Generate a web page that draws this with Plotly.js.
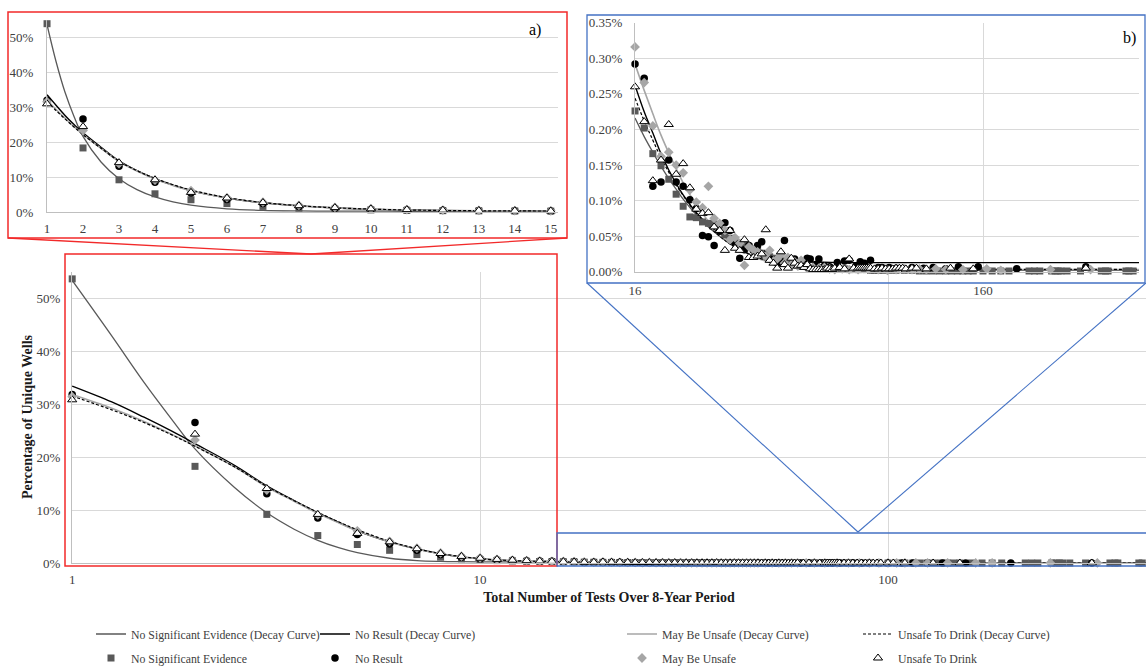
<!DOCTYPE html>
<html>
<head>
<meta charset="utf-8">
<script src="https://cdn.plot.ly/plotly-3.0.1.min.js"></script>
<style>
  html, body { margin: 0; padding: 0; background: #ffffff; overflow: hidden; }
  #chart { width: 1146px; height: 666px; }
</style>
</head>
<body>
<div id="chart"></div>
<script>
// ---------------- DATA (percent of unique wells) ----------------
// Tests 1..15 (inset a and left part of main chart)
const xLow   = [1,2,3,4,5,6,7,8,9,10,11,12,13,14,15];
const nseLow = [53.8,18.3,9.2,5.2,3.5,2.4,1.6,1.1,0.8,0.6,0.45,0.38,0.32,0.28,0.25];
const nrLow  = [31.9,26.6,13.1,8.5,5.4,3.6,2.4,1.6,1.1,0.82,0.62,0.5,0.42,0.36,0.31];
const mbuLow = [31.5,23.3,13.8,9.1,6.1,4.1,2.8,1.9,1.3,0.95,0.7,0.55,0.46,0.38,0.33];
const utdLow = [30.9,24.4,14.1,9.2,5.6,4.0,2.7,1.8,1.25,0.9,0.68,0.53,0.44,0.37,0.31];

// Tests >= 16 (inset b and right part of main chart)
const nseHighX = [16,17,18,19,20,21,22,23,24,25,26,27,28,29,30,31,32,33,34,35,36,37,38,39,40,41,42,43,44,45,46,47,48,49,50,
  52,54,56,58,60,62,64,66,68,70,72,74,76,78,80,
  83,86,90,95,100,105,110,115,120,125,130,135,140,145,150,
  160,170,180,190,
  217,225,233,252,258,263,268,279,305,350,360,366,412,420,432];
const nseHigh = [0.226,0.202,0.166,0.149,0.130,0.109,0.092,0.077,0.076,0.070,
  0.068,0.067,0.060,0.052,0.047,0.044,0.040,0.037,0.035,0.032,
  0.029,0.026,0.024,0.021,0.019,0.017,0.016,0.014,0.013,0.011,
  0.010,0.009,0.008,0.008,0.007,
  0.006,0.006,0.005,0.005,0.004,0.004,0.004,0.003,0.003,0.003,0.003,0.003,0.002,0.002,0.002,
  0.002,0.002,0.002,0.002,0.002,0.001,0.001,0.001,0.001,0.001,0.001,0.001,0.001,0.001,0.001,
  0.001,0.001,0.001,0.001,
  0.001,0.001,0.001,0.001,0.001,0.001,0.001,0.001,0.001,0.001,0.001,0.001,0.001,0.001,0.001];

const nrHighX = [16,17,18,19,20,21,22,23,24,25,26,27,28,29,30,31,32,33,34,35,36,37,38,39,40,41,42,43,44,45,46,
  48,50,51,53,54,56,58,61,64,66,69,71,73,76,80,82,86,90,95,100,
  108,115,125,136,155,200,316];
const nrHigh = [0.292,0.272,0.120,0.126,0.157,0.126,0.120,0.101,0.089,0.051,
  0.049,0.037,0.057,0.069,0.058,0.040,0.019,0.031,0.037,0.030,
  0.037,0.042,0.025,0.018,0.016,0.012,0.014,0.044,0.010,0.009,
  0.018,
  0.012,0.019,0.018,0.010,0.018,0.008,0.007,0.013,0.015,0.016,
  0.008,0.014,0.012,0.016,0.006,0.006,0.006,0.005,0.004,0.006,
  0.005,0.006,0.004,0.007,0.007,0.004,0.007];

const mbuHighX = [16,17,18,19,20,21,22,23,24,25,26,27,28,29,30,31,32,33,34,35,36,37,38,39,40,41,42,43,44,45,46,47,48,
  50,52,54,56,58,60,63,66,70,75,
  80,85,90,95,100,105,110,117,125,140,
  164,180,250,326];
const mbuHigh = [0.316,0.266,0.205,0.162,0.168,0.150,0.139,0.115,0.098,0.090,
  0.120,0.075,0.068,0.058,0.045,0.048,0.040,0.009,0.035,0.031,
  0.028,0.025,0.022,0.030,0.015,0.018,0.024,0.012,0.020,0.010,
  0.014,0.008,0.016,
  0.007,0.006,0.005,0.006,0.004,0.003,0.004,0.003,0.003,0.004,
  0.003,0.002,0.003,0.004,0.003,0.004,0.003,0.004,0.003,0.003,
  0.004,0.002,0.003,0.003];

const utdHighX = [16,17,18,19,20,21,22,23,24,25,26,27,28,29,30,31,32,33,34,35,36,37,38,39,40,41,42,43,44,45,
  46,47,48,49,50,51,52,53,54,55,56,57,58,59,60,
  62,64,66,68,70,71,72,73,74,75,76,78,80,82,84,86,88,90,92,94,96,100,103,110,129,150,316];
const utdHigh = [0.260,0.211,0.128,0.157,0.207,0.137,0.152,0.118,0.088,0.082,
  0.083,0.063,0.058,0.030,0.058,0.033,0.030,0.045,0.020,0.020,
  0.022,0.025,0.059,0.016,0.012,0.005,0.028,0.010,0.005,0.019,
  0.012,0.008,0.009,0.006,0.010,0.004,0.003,0.003,0.003,0.003,
  0.003,0.005,0.004,0.003,0.005,
  0.006,0.004,0.018,0.005,0.005,0.005,0.005,0.005,0.005,0.005,
  0.005,0.004,0.004,0.005,0.004,0.004,0.004,0.005,0.005,0.005,
  0.004,0.005,0.005,0.004,0.005,0.004,0.005];

// Decay curves (tests 1..15)
const fitLowX   = [1,1.25,1.5,1.75,2,2.5,3,3.5,4,4.5,5,6,7,8,9,10,11,12,13,14,15];
const nseFitLow = [53.5,43.0,34.2,27.3,21.6,14.3,9.5,6.4,4.3,2.9,1.95,0.9,0.45,0.3,0.25,0.23,0.22,0.22,0.22,0.22,0.22];
const nrFitLow  = [33.5,30.5,27.6,25.0,22.6,18.5,14.6,11.8,9.5,7.7,6.1,4.0,2.65,1.75,1.15,0.8,0.56,0.42,0.35,0.3,0.27];
const mbuFitLow = [31.9,29.3,26.8,24.4,22.2,18.2,14.4,11.7,9.4,7.6,6.1,4.0,2.65,1.75,1.15,0.8,0.56,0.42,0.35,0.3,0.28];
const utdFitLow = [31.6,29.0,26.6,24.3,22.1,18.2,14.5,11.8,9.6,7.8,6.3,4.1,2.7,1.8,1.2,0.83,0.58,0.44,0.36,0.31,0.28];

// Decay curves (tests >= 16)
const fitHighX   = [16,17,18,19,20,21,22,24,26,28,30,33,36,40,45,50,60,80,120,200,450];
const nseFitHigh = [0.216,0.190,0.168,0.148,0.131,0.116,0.102,0.080,0.063,0.050,0.039,0.028,0.020,0.013,0.008,0.005,0.003,0.002,0.002,0.002,0.002];
const nrFitHigh  = [0.262,0.225,0.195,0.166,0.143,0.124,0.108,0.083,0.066,0.054,0.044,0.034,0.026,0.020,0.016,0.014,0.013,0.0127,0.0127,0.0127,0.0127];
const mbuFitHigh = [0.292,0.255,0.222,0.192,0.167,0.145,0.125,0.094,0.071,0.054,0.041,0.028,0.019,0.012,0.007,0.005,0.0035,0.003,0.003,0.003,0.003];
const utdFitHigh = [0.244,0.212,0.185,0.160,0.140,0.122,0.107,0.082,0.064,0.050,0.039,0.028,0.020,0.013,0.008,0.006,0.004,0.0035,0.0034,0.0034,0.0034];

const seriesNames = ['No Significant Evidence','No Result','May Be Unsafe','Unsafe To Drink'];
const mainXTicks  = [1,10,100];
const mainYTicks  = [0,10,20,30,40,50];
const insetBXTicks = [16,160];

// ---------------- STYLE ----------------
const W = 1146, H = 666;
const FONT = '"Liberation Serif", "Times New Roman", serif';
const GRID = '#d9d9d9', AXIS = '#bfbfbf', TICK = '#404040';
const RED = '#f22a2a', BLUE = '#4472c4';
function px(x){ return x / W; }
function py(y){ return 1 - y / H; }

const lineStyles = [
  {color:'#595959', width:1.3},
  {color:'#000000', width:1.4},
  {color:'#a6a6a6', width:1.6},
  {color:'#000000', width:1.2, dash:'3px,2px'}
];
const markerStyles = [
  {symbol:'square', size:7, color:'#595959'},
  {symbol:'circle', size:7.5, color:'#000000'},
  {symbol:'diamond', size:7.5, color:'#a6a6a6'},
  {symbol:'triangle-up', size:8, color:'#ffffff', line:{color:'#000000', width:1}}
];

const lowSeries  = [nseLow, nrLow, mbuLow, utdLow];
const highX      = [nseHighX, nrHighX, mbuHighX, utdHighX];
const highSeries = [nseHigh, nrHigh, mbuHigh, utdHigh];
const fitLow     = [nseFitLow, nrFitLow, mbuFitLow, utdFitLow];
const fitHigh    = [nseFitHigh, nrFitHigh, mbuFitHigh, utdFitHigh];

const traces = [];
// curves
for (let i = 0; i < 4; i++) {
  const common = {mode:'lines', line:Object.assign({shape:'spline', smoothing:1}, lineStyles[i]), hoverinfo:'skip'};
  traces.push(Object.assign({}, common, {
    name: seriesNames[i] + ' (Decay Curve)', x: fitLowX.concat(fitHighX), y: fitLow[i].concat(fitHigh[i]),
    xaxis:'x', yaxis:'y', showlegend:true, legend: i === 0 ? 'legend' : 'legend' + (i + 1)
  }));
  traces.push(Object.assign({}, common, {x: fitLowX, y: fitLow[i], xaxis:'x2', yaxis:'y2', showlegend:false}));
  traces.push(Object.assign({}, common, {x: fitHighX, y: fitHigh[i], xaxis:'x3', yaxis:'y3', showlegend:false}));
}
// markers
for (let i = 0; i < 4; i++) {
  const common = {mode:'markers', marker:markerStyles[i], cliponaxis:false, hoverinfo:'x+y'};
  traces.push(Object.assign({}, common, {
    name: seriesNames[i], x: xLow.concat(highX[i]), y: lowSeries[i].concat(highSeries[i]),
    xaxis:'x', yaxis:'y', showlegend:true, legend: 'legend' + (i + 5)
  }));
  traces.push(Object.assign({}, common, {x: xLow, y: lowSeries[i], xaxis:'x2', yaxis:'y2', showlegend:false}));
  traces.push(Object.assign({}, common, {x: highX[i], y: highSeries[i], xaxis:'x3', yaxis:'y3', showlegend:false}));
}

const tickFont = {family: FONT, size: 13, color: TICK};
const axisBase = {showline:true, linecolor:AXIS, linewidth:1, zeroline:false, ticks:'', gridcolor:GRID, gridwidth:1,
  tickfont:tickFont, fixedrange:true, automargin:false};

// legends: one per entry, laid out in two rows of four
const legendCols = [131, 355, 662, 898];
const legendRows = [634, 658];
const legends = {};
for (let k = 0; k < 8; k++) {
  const key = k === 0 ? 'legend' : 'legend' + (k + 1);
  legends[key] = {
    x: px(legendCols[k % 4] - 40), y: py(legendRows[Math.floor(k / 4)]),
    xanchor:'left', yanchor:'middle', bgcolor:'rgba(0,0,0,0)', borderwidth:0,
    font:{family: FONT, size: 11.8, color:'#404040'}, itemclick:false, itemdoubleclick:false
  };
}

const shapes = [
  // inset a frame + connectors
  {type:'rect', xref:'paper', yref:'paper', x0:px(8), x1:px(567), y0:py(12), y1:py(238), line:{color:RED, width:1.5}},
  {type:'rect', xref:'paper', yref:'paper', x0:px(65), x1:px(557), y0:py(254), y1:py(566), line:{color:RED, width:1.5}},
  {type:'line', xref:'paper', yref:'paper', x0:px(8), x1:px(311), y0:py(238), y1:py(254), line:{color:RED, width:1.3}},
  {type:'line', xref:'paper', yref:'paper', x0:px(567), x1:px(311), y0:py(238), y1:py(254), line:{color:RED, width:1.3}},
  // inset b frame + connectors
  {type:'rect', xref:'paper', yref:'paper', x0:px(587), x1:px(1145), y0:py(15), y1:py(283), line:{color:BLUE, width:1.3}},
  {type:'rect', xref:'paper', yref:'paper', x0:px(557), x1:px(1152), y0:py(533), y1:py(566), line:{color:BLUE, width:1.3}},
  {type:'line', xref:'paper', yref:'paper', x0:px(587), x1:px(858), y0:py(283), y1:py(532), line:{color:BLUE, width:1.1}},
  {type:'line', xref:'paper', yref:'paper', x0:px(1146), x1:px(858), y0:py(283), y1:py(532), line:{color:BLUE, width:1.1}}
];

const layout = Object.assign({
  width: W, height: H,
  margin: {l:0, r:0, t:0, b:0, autoexpand:false},
  paper_bgcolor:'#ffffff', plot_bgcolor:'#ffffff',
  font: {family: FONT, size: 13, color: TICK},
  showlegend: true,
  xaxis: Object.assign({}, axisBase, {
    type:'log', range:[-0.0005, Math.log10(429)], domain:[px(72), 1], anchor:'y',
    tickvals: mainXTicks, ticktext: mainXTicks.map(String), showgrid:true, ticklabelstandoff: 4,
    title:{text:'<b>Total Number of Tests Over 8-Year Period</b>', font:{family:FONT, size:14, color:'#1a1a1a'}, standoff:6}
  }),
  yaxis: Object.assign({}, axisBase, {
    range:[0, 55.1], domain:[py(563), py(272)], anchor:'x',
    tickvals: mainYTicks, ticktext: mainYTicks.map(v => v + '%'), showgrid:true, ticklabelstandoff: 8
  }),
  xaxis2: Object.assign({}, axisBase, {
    range:[0.999, 15.2], domain:[px(47), px(558)], anchor:'y2',
    tickmode:'linear', tick0:1, dtick:1, showgrid:false, ticklabelstandoff: 4
  }),
  yaxis2: Object.assign({}, axisBase, {
    range:[0, 55], domain:[py(212), py(19.5)], anchor:'x2',
    tickmode:'linear', tick0:0, dtick:10, ticksuffix:'%', showgrid:true, ticklabelstandoff: 10
  }),
  xaxis3: Object.assign({}, axisBase, {
    type:'log', range:[1.2040, 2.6524], domain:[px(635), px(1139)], anchor:'y3',
    tickvals: insetBXTicks, ticktext: insetBXTicks.map(String), showgrid:true, ticklabelstandoff: 7
  }),
  yaxis3: Object.assign({}, axisBase, {
    range:[0, 0.35], domain:[py(271.7), py(22.8)], anchor:'x3',
    tickmode:'linear', tick0:0, dtick:0.05, tickformat:'.2f', ticksuffix:'%', showgrid:true, ticklabelstandoff: 9
  }),
  shapes: shapes,
  annotations: [
    {xref:'paper', yref:'paper', x:px(27), y:py(417), xanchor:'center', yanchor:'middle',
     text:'<b>Percentage of Unique Wells</b>', textangle:-90, showarrow:false,
     font:{family:FONT, size:14, color:'#1a1a1a'}},
    {xref:'paper', yref:'paper', x:px(535), y:py(30), xanchor:'center', yanchor:'middle',
     text:'a)', showarrow:false, font:{family:FONT, size:16, color:'#000'}},
    {xref:'paper', yref:'paper', x:px(1129), y:py(38), xanchor:'center', yanchor:'middle',
     text:'b)', showarrow:false, font:{family:FONT, size:16, color:'#000'}}
  ]
}, legends);

Plotly.newPlot('chart', traces, layout, {displayModeBar:false, staticPlot:true});
</script>
</body>
</html>
